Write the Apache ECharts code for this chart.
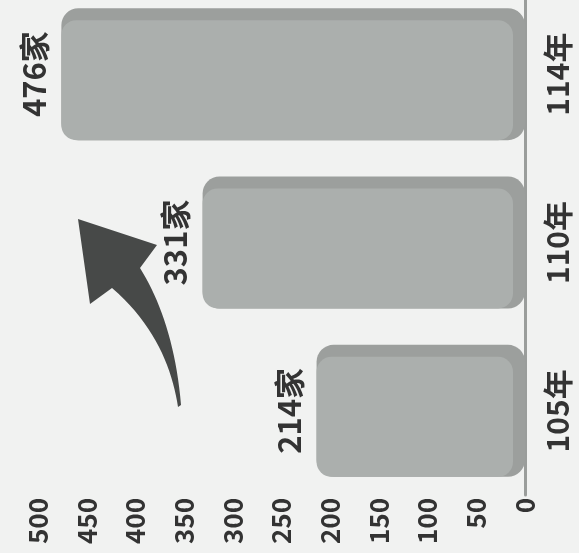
<!DOCTYPE html>
<html>
<head>
<meta charset="utf-8">
<script src="https://cdn.jsdelivr.net/npm/echarts@6/dist/echarts.min.js"></script>
<style>
html,body{margin:0;padding:0;background:#f1f2f1;overflow:hidden;}
#main{width:579px;height:563px;position:relative;top:-10px;}
</style>
</head>
<body>
<div id="main"></div>
<script>
const years = ['105年', '110年', '114年'];
const counts = [214, 331, 476];
const valueTicks = [0, 50, 100, 150, 200, 250, 300, 350, 400, 450, 500];

const FONT = '"Noto Sans CJK TC", "Noto Sans", sans-serif';
const chart = echarts.init(document.getElementById('main'));

const faceData = years.map((c, i) => [counts[i], i]);

// decorative arrow outline (sampled cubic curves), page coords shifted by +10 for the div offset
function cubic(p0, p1, p2, p3, n) {
  const pts = [];
  for (let k = 1; k <= n; k++) {
    const t = k / n, u = 1 - t;
    pts.push([
      u*u*u*p0[0] + 3*u*u*t*p1[0] + 3*u*t*t*p2[0] + t*t*t*p3[0],
      u*u*u*p0[1] + 3*u*u*t*p1[1] + 3*u*t*t*p2[1] + t*t*t*p3[1]
    ]);
  }
  return pts;
}
const arrowPts = [[78,219],[157,245],[140,268]]
  .concat(cubic([140,268],[160,300],[176,345],[181,405], 20))
  .concat([[178,407]])
  .concat(cubic([178,407],[172,368],[155,325],[112,288], 20))
  .concat([[90,304]])
  .map(p => [p[0], p[1] + 10]);

chart.setOption({
  backgroundColor: '#f1f2f1',
  animation: false,
  grid: { left: 38, right: 54, top: 0, bottom: 58, containLabel: false },
  xAxis: {
    type: 'value',
    inverse: true,
    min: valueTicks[0],
    max: valueTicks[valueTicks.length - 1],
    interval: 50,
    splitLine: { show: false },
    axisLine: { show: false },
    axisTick: { show: false },
    axisLabel: {
      rotate: 90,
      margin: 3,
      fontFamily: FONT,
      fontSize: 26,
      fontWeight: 'bold',
      color: '#333'
    }
  },
  yAxis: {
    type: 'category',
    position: 'right',
    data: years,
    axisLine: { show: true, lineStyle: { color: '#9a9d9b', width: 3 } },
    axisTick: { show: false },
    axisLabel: {
      rotate: 90,
      margin: 18,
      fontFamily: FONT,
      fontSize: 30,
      fontWeight: 'bold',
      color: '#333'
    }
  },
  series: [
    {
      type: 'bar',
      data: counts,
      barWidth: 132,
      itemStyle: { color: '#9c9f9d', borderRadius: 17 },
      label: {
        show: true,
        position: 'left',
        rotate: 90,
        align: 'center',
        verticalAlign: 'bottom',
        distance: 12,
        formatter: '{c}家',
        fontFamily: FONT,
        fontSize: 31,
        fontWeight: 'bold',
        color: '#333'
      },
      z: 2
    },
    {
      type: 'custom',
      data: faceData,
      encode: { x: 0, y: 1 },
      z: 3,
      silent: true,
      renderItem: function (params, api) {
        const end = api.coord([api.value(0), api.value(1)]);
        const start = api.coord([0, api.value(1)]);
        const half = 66;
        return {
          type: 'rect',
          shape: {
            x: end[0],
            y: end[1] - half + 12,
            width: start[0] - 12 - end[0],
            height: 2 * half - 12,
            r: 15
          },
          style: { fill: '#abafad' }
        };
      }
    }
  ],
  graphic: [
    {
      type: 'polygon',
      shape: { points: arrowPts },
      style: { fill: '#474948' },
      z: 10
    }
  ]
});
</script>
</body>
</html>
